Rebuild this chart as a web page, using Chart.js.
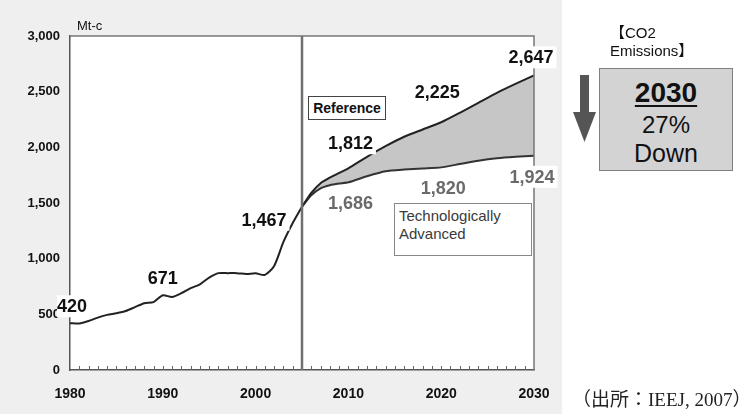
<!DOCTYPE html>
<html>
<head>
<meta charset="utf-8">
<script src="https://cdn.jsdelivr.net/npm/chart.js@4.4.1/dist/chart.umd.min.js"></script>
<style>
    body { margin: 0; background: #fff; font-family: 'Liberation Sans', Arial, sans-serif; }
    #wrap { position: relative; width: 752px; height: 414px; overflow: hidden; }
    #panel { position: absolute; left: 0; top: 0; width: 562px; height: 414px; background: #efefef; }
    #chart { position: absolute; left: 0; top: 0; }
    .box { position: absolute; background: #fff; box-sizing: border-box; }
    #ref-box { left: 308px; top: 96px; width: 78px; height: 24px; border: 1px solid #444;
        font-weight: bold; font-size: 14px; line-height: 22px; text-align: center; color: #111; }
    #tech-box { left: 394px; top: 203px; width: 138px; height: 53px; border: 1px solid #888;
        font-size: 15px; line-height: 18px; padding: 3px 0 0 4px; color: #3a3a3a; }
    #co2-title { position: absolute; left: 610px; top: 24px; font-size: 15px; line-height: 18px; color: #111;
        font-family: 'Liberation Sans', 'Noto Sans CJK JP', sans-serif; }
    #down-box { position: absolute; left: 599px; top: 68px; width: 134px; height: 103px; box-sizing: border-box;
        background: #d3d3d3; border: 1.5px solid #808080; text-align: center; color: #111; }
    #down-box .year { font-weight: bold; font-size: 28px; line-height: 30px; margin-top: 9px;
        text-decoration: underline; text-decoration-thickness: 2px; text-underline-offset: 3px; }
    #down-box .pct { font-size: 24px; line-height: 28px; margin-top: 3px; }
    #down-box .down { font-size: 25px; line-height: 28px; }
    #arrow { position: absolute; left: 570px; top: 72px; }
    #source { position: absolute; left: 572px; top: 389px; font-size: 19px; line-height: 22px; color: #222;
        font-family: 'Liberation Serif', 'Noto Sans CJK JP', serif; white-space: nowrap; }
</style>
</head>
<body>
<div id="wrap">
    <div id="panel"></div>
    <canvas id="chart" width="752" height="414"></canvas>
    <div id="ref-box" class="box">Reference</div>
    <div id="tech-box" class="box">Technologically<br>Advanced</div>
    <div id="co2-title">【CO2<br>Emissions】</div>
    <svg id="arrow" width="30" height="75">
        <rect x="10" y="3" width="9" height="39" fill="#555"/>
        <polygon points="3,40 26,40 14.5,70" fill="#555"/>
    </svg>
    <div id="down-box">
        <div class="year">2030</div>
        <div class="pct">27%</div>
        <div class="down">Down</div>
    </div>
    <div id="source">（出所：IEEJ, 2007）</div>
</div>

<script>
// emissions, Mt-c
const histYears = [1980, 1981, 1982, 1983, 1984, 1985, 1986, 1987, 1988, 1989, 1990, 1991, 1992,
    1993, 1994, 1995, 1996, 1997, 1998, 1999, 2000, 2001, 2002, 2003, 2004, 2005];
const histValues = [420, 418, 440, 470, 495, 510, 530, 565, 600, 610, 671, 656, 690,
    735, 770, 830, 870, 870, 870, 862, 868, 855, 935, 1150, 1320, 1467];

const futureYears = [2005, 2006, 2007, 2008, 2009, 2010, 2012, 2014, 2016, 2018, 2020, 2022, 2024, 2026, 2028, 2030];
const referenceValues = [1467, 1590, 1678, 1728, 1770, 1812, 1915, 2010, 2095, 2160, 2225, 2310, 2400, 2490, 2570, 2647];
const techValues = [1467, 1570, 1632, 1660, 1675, 1686, 1740, 1785, 1800, 1810, 1820, 1850, 1880, 1902, 1915, 1924];

const yTicks = [0, 500, 1000, 1500, 2000, 2500, 3000];
const xTicks = [1980, 1990, 2000, 2010, 2020, 2030];

const splitYear = 2005;
const histLabelYears = [1980, 1990, 2005];
const refLabelYears = [2010, 2020, 2030];
const techLabelYears = [2010, 2020, 2030];

const toPoints = (xs, ys) => xs.map((x, i) => ({ x: x, y: ys[i] }));
const fmt = v => v.toLocaleString('en-US');
const valueAt = (xs, ys, year) => ys[xs.indexOf(year)];

// label offsets from the point they describe (px), plus side padding of the white backing
const labelOffsets = {
    hist: [[2, -17, 0], [0, -17, 3], [-38, 13, 3]],
    ref: [[2, -25, 3], [-4, -30, 3], [-3, -18, 3]],
    tech: [[2, 21, 3], [2, 21, 3], [-2, 21, 3]]
};

const frame = {
    id: 'frame',
    beforeDraw(chart) {
        const { ctx, chartArea: a } = chart;
        ctx.save();
        ctx.fillStyle = '#fff';
        ctx.fillRect(a.left, a.top, a.right - a.left, a.bottom - a.top);
        ctx.restore();
    },
    afterDatasetsDraw(chart) {
        const { ctx, chartArea: a, scales } = chart;
        const x = scales.x;
        ctx.save();
        // top and right edges of the plot
        ctx.strokeStyle = '#777';
        ctx.lineWidth = 1.5;
        ctx.beginPath();
        ctx.moveTo(a.left, a.top);
        ctx.lineTo(a.right, a.top);
        ctx.lineTo(a.right, a.bottom);
        ctx.stroke();

        // small year ticks pointing into the plot
        ctx.strokeStyle = '#666';
        ctx.lineWidth = 1;
        for (let yr = xTicks[0] + 1; yr < xTicks[xTicks.length - 1]; yr++) {
            const px = Math.round(x.getPixelForValue(yr)) + 0.5;
            ctx.beginPath();
            ctx.moveTo(px, a.bottom);
            ctx.lineTo(px, a.bottom - 4);
            ctx.stroke();
        }

        // divider between history and outlook
        const sx = x.getPixelForValue(splitYear);
        ctx.strokeStyle = '#707070';
        ctx.lineWidth = 2.5;
        ctx.beginPath();
        ctx.moveTo(sx, a.top);
        ctx.lineTo(sx, a.bottom);
        ctx.stroke();

        // unit
        ctx.fillStyle = '#111';
        ctx.font = '13px "Liberation Sans", Arial, sans-serif';
        ctx.textAlign = 'left';
        ctx.textBaseline = 'middle';
        ctx.fillText('Mt-c', a.left + 7, a.top - 10);
        ctx.restore();
    },
    afterDraw(chart) {
        const { ctx, scales } = chart;
        const groups = [
            { years: histLabelYears, xs: histYears, ys: histValues, off: labelOffsets.hist, color: '#111' },
            { years: refLabelYears, xs: futureYears, ys: referenceValues, off: labelOffsets.ref, color: '#111' },
            { years: techLabelYears, xs: futureYears, ys: techValues, off: labelOffsets.tech, color: '#6a6a6a' }
        ];
        ctx.save();
        ctx.font = 'bold 18px "Liberation Sans", Arial, sans-serif';
        ctx.textAlign = 'center';
        ctx.textBaseline = 'middle';
        groups.forEach(g => {
            g.years.forEach((yr, i) => {
                const v = valueAt(g.xs, g.ys, yr);
                const text = fmt(v);
                const [dx, dy, pad] = g.off[i];
                const cx = scales.x.getPixelForValue(yr) + dx;
                const cy = scales.y.getPixelForValue(v) + dy;
                const w = ctx.measureText(text).width + pad * 2;
                ctx.fillStyle = '#fff';
                ctx.fillRect(cx - w / 2, cy - 11, w, 22);
                ctx.fillStyle = g.color;
                ctx.fillText(text, cx, cy + 1);
            });
        });
        ctx.restore();
    }
};

const ctx = document.querySelector('#chart').getContext('2d');

new Chart(ctx, {
    type: 'line',
    data: {
        datasets: [
            {
                label: 'History',
                data: toPoints(histYears, histValues),
                borderColor: '#222',
                borderWidth: 2,
                pointRadius: 0,
                tension: 0.25,
                fill: false
            },
            {
                label: 'Reference',
                data: toPoints(futureYears, referenceValues),
                borderColor: '#222',
                borderWidth: 2,
                pointRadius: 0,
                tension: 0.2,
                fill: false
            },
            {
                label: 'Technologically Advanced',
                data: toPoints(futureYears, techValues),
                borderColor: '#333',
                borderWidth: 2,
                pointRadius: 0,
                tension: 0.2,
                fill: { target: 1 },
                backgroundColor: '#c6c6c6'
            }
        ]
    },
    options: {
        responsive: false,
        animation: false,
        devicePixelRatio: 1,
        layout: { padding: { top: 36, right: 218, left: 0, bottom: 0 } },
        plugins: {
            legend: { display: false },
            tooltip: { enabled: false }
        },
        scales: {
            x: {
                type: 'linear',
                min: xTicks[0],
                max: xTicks[xTicks.length - 1],
                afterFit: s => { s.height = 44; },
                afterBuildTicks: s => { s.ticks = xTicks.map(v => ({ value: v })); },
                grid: { display: false, drawTicks: false },
                border: { display: true, color: '#555', width: 1.5 },
                ticks: {
                    padding: 16,
                    color: '#111',
                    font: { family: '"Liberation Sans", Arial, sans-serif', size: 14, weight: 'bold' },
                    callback: v => String(v)
                }
            },
            y: {
                min: yTicks[0],
                max: yTicks[yTicks.length - 1],
                afterFit: s => { s.width = 70; },
                afterBuildTicks: s => { s.ticks = yTicks.map(v => ({ value: v })); },
                grid: { display: false, drawTicks: false },
                border: { display: true, color: '#555', width: 1.5 },
                ticks: {
                    padding: 10,
                    color: '#111',
                    font: { family: '"Liberation Sans", Arial, sans-serif', size: 13, weight: 'bold' },
                    callback: v => fmt(v)
                }
            }
        }
    },
    plugins: [frame]
});
</script>
</body>
</html>
